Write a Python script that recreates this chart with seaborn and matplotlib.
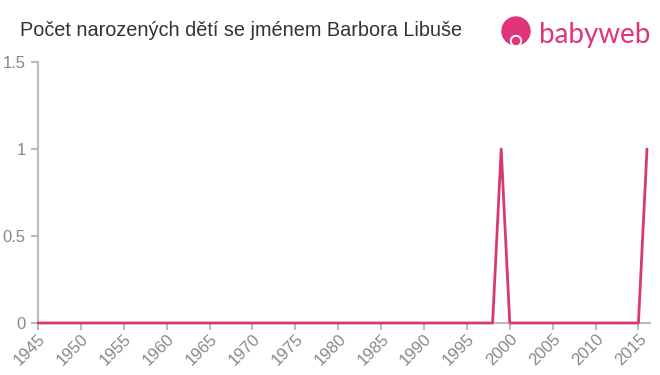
import matplotlib
matplotlib.use("Agg")
import matplotlib.pyplot as plt
import seaborn as sns
import pandas as pd
from matplotlib.patches import Circle

years = list(range(1945, 2017))
counts = [0] * len(years)
counts[years.index(1999)] = 1
counts[years.index(2016)] = 1
xticks = list(range(1945, 2016, 5))
yticks = [0, 0.5, 1, 1.5]
yticklabels = ["0", "0.5", "1", "1.5"]

df = pd.DataFrame({"rok": years, "pocet": counts})

sns.set_theme(style="white")
plt.rcParams['font.family'] = ['Liberation Sans', 'DejaVu Sans']

fig = plt.figure(figsize=(6.6, 3.75), dpi=100)
ax = fig.add_axes([38/660, 1 - 323/375, (647-38)/660, (323-62)/375])

sns.lineplot(data=df, x="rok", y="pocet", ax=ax, color="#d93a6c", linewidth=2,
             clip_on=False, zorder=10)

ax.set_xlim(1945, 2016)
ax.set_ylim(0, 1.5)
ax.set_xticks(xticks)
ax.set_xticklabels([str(x) for x in xticks], rotation=45, ha="right", rotation_mode="anchor")
ax.set_yticks(yticks)
ax.set_yticklabels(yticklabels)
ax.set_xlabel("")
ax.set_ylabel("")
for s in ["top", "right"]:
    ax.spines[s].set_visible(False)
for s in ["left", "bottom"]:
    ax.spines[s].set_color("#bbbbbb")
    ax.spines[s].set_linewidth(1.5)
    ax.spines[s].set_zorder(1)
ax.spines["bottom"].set_bounds(1945, 2016.3)
ax.tick_params(axis="both", colors="#bbbbbb", labelcolor="#888888", labelsize=12,
               length=5, width=1.5, direction="out", bottom=True, left=True)
ax.tick_params(axis="x", pad=1)
ax.tick_params(axis="y", pad=4)
ax.grid(False)

fig.text(20/660, 1 - 31/375, "Počet narozených dětí se jménem Barbora Libuše",
         fontsize=14.3, color="#333333", va="center", ha="left")

# logo
logo_color = "#e0337a"
fig.text(539/660, 1 - 35/375, "babyweb", fontsize=20, color=logo_color,
         va="center", ha="left", family=["Lato", "DejaVu Sans"])
c = Circle((516, 375 - 31), 14, transform=None, color=logo_color, zorder=5)
fig.add_artist(c)
c2 = Circle((516, 375 - 41), 5.5, transform=None, color="white", zorder=6)
fig.add_artist(c2)
c3 = Circle((516, 375 - 41), 3.5, transform=None, color=logo_color, zorder=7)
fig.add_artist(c3)

fig.savefig("out.png", dpi=100)
